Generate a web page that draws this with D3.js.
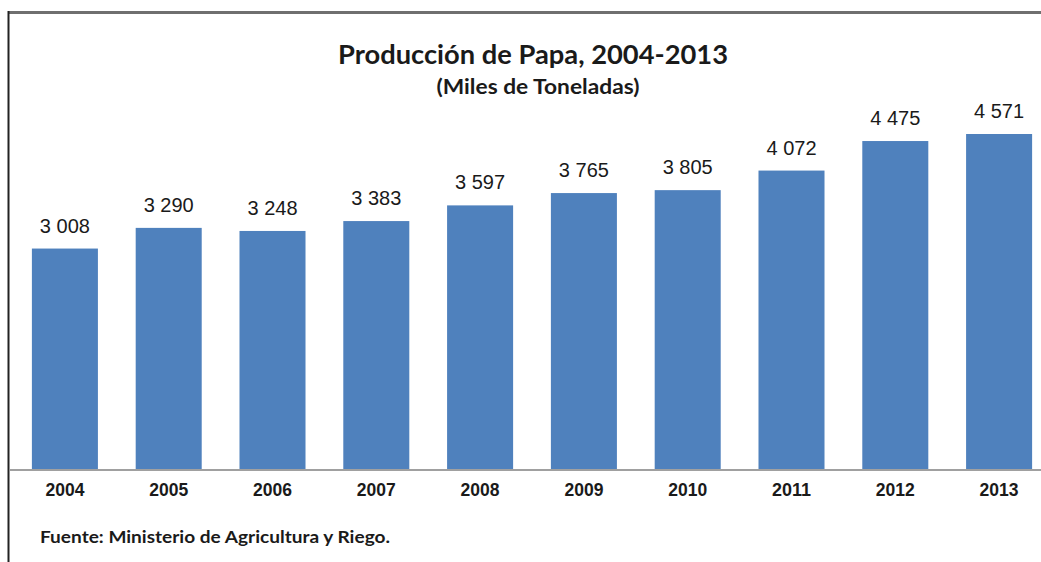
<!DOCTYPE html>
<html>
<head>
<meta charset="utf-8">
<script src="https://cdn.jsdelivr.net/npm/d3@7"></script>
<style>
  body { margin: 0; background: #fff; }
</style>
</head>
<body>
<div id="chart"></div>
<script>
// datos: produccion de papa (miles de toneladas)
const years = ["2004", "2005", "2006", "2007", "2008", "2009", "2010", "2011", "2012", "2013"];
const values = [3008, 3290, 3248, 3383, 3597, 3765, 3805, 4072, 4475, 4571];
const labels = ["3 008", "3 290", "3 248", "3 383", "3 597", "3 765", "3 805", "4 072", "4 475", "4 571"];

const width = 1041;
const height = 562;

const svg = d3.select("#chart")
    .append("svg")
    .attr("width", width)
    .attr("height", height);

// marco
svg.append("line")
    .attr("x1", 8).attr("x2", width)
    .attr("y1", 12.5).attr("y2", 12.5)
    .style("stroke", "#6f6f6f")
    .style("stroke-width", 3);
svg.append("line")
    .attr("x1", 8.5).attr("x2", 8.5)
    .attr("y1", 11).attr("y2", height)
    .style("stroke", "#222")
    .style("stroke-width", 2);

// titulos
svg.append("text")
    .attr("x", 533).attr("y", 64)
    .attr("text-anchor", "middle")
    .attr("textLength", 390)
    .attr("lengthAdjust", "spacingAndGlyphs")
    .style("font-family", "Lato, 'Open Sans', sans-serif")
    .style("font-weight", "bold")
    .style("font-size", "26px")
    .style("fill", "#1a1a1a")
    .text("Producción de Papa, 2004-2013");
svg.append("text")
    .attr("x", 538).attr("y", 94)
    .attr("text-anchor", "middle")
    .attr("textLength", 203)
    .attr("lengthAdjust", "spacingAndGlyphs")
    .style("font-family", "Lato, 'Open Sans', sans-serif")
    .style("font-weight", "bold")
    .style("font-size", "20px")
    .style("fill", "#1a1a1a")
    .text("(Miles de Toneladas)");

const x = d3.scaleBand()
    .domain(years)
    .range([13, 1051])
    .paddingInner(0.364)
    .paddingOuter(0.182);

const y = d3.scaleLinear()
    .domain([0, 4571])
    .range([469, 134]);

svg.append("g")
    .selectAll("rect")
    .data(values)
    .join("rect")
    .attr("x", (d, i) => x(years[i]))
    .attr("y", d => y(d))
    .attr("width", x.bandwidth())
    .attr("height", d => y(0) - y(d))
    .style("fill", "#4f81bd");

// etiquetas de valores
svg.append("g")
    .selectAll("text")
    .data(values)
    .join("text")
    .attr("x", (d, i) => x(years[i]) + x.bandwidth() / 2)
    .attr("y", d => y(d) - 16)
    .attr("text-anchor", "middle")
    .style("font-family", "'Liberation Sans', Arial, sans-serif")
    .style("font-size", "20px")
    .style("fill", "#1a1a1a")
    .text((d, i) => labels[i]);

// eje x
const axis = svg.append("g")
    .attr("transform", "translate(0," + 470 + ")")
    .call(d3.axisBottom(x).tickSize(0).tickPadding(13));
axis.select(".domain")
    .attr("d", "M10,0H" + width)
    .style("stroke", "#a0a0a0")
    .style("stroke-width", 2);
axis.selectAll("text")
    .attr("textLength", 39)
    .attr("lengthAdjust", "spacingAndGlyphs")
    .style("font-family", "'Liberation Sans', Arial, sans-serif")
    .style("font-weight", "bold")
    .style("font-size", "18px")
    .style("fill", "#1a1a1a");

// fuente
svg.append("text")
    .attr("x", 40).attr("y", 543)
    .attr("textLength", 350)
    .attr("lengthAdjust", "spacingAndGlyphs")
    .style("font-family", "Lato, 'Open Sans', sans-serif")
    .style("font-weight", "bold")
    .style("font-size", "17px")
    .style("fill", "#1a1a1a")
    .text("Fuente: Ministerio de Agricultura y Riego.");
</script>
</body>
</html>
